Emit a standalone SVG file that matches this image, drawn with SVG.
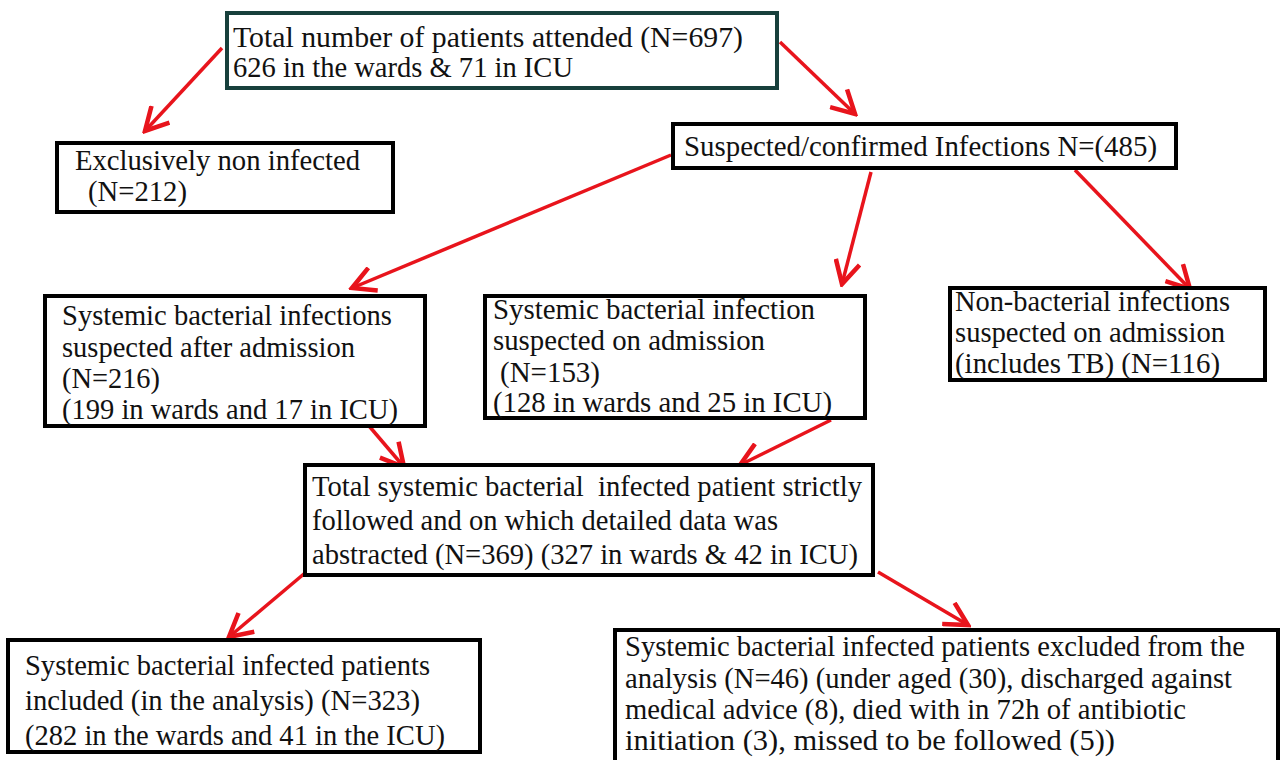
<svg xmlns="http://www.w3.org/2000/svg" width="1283" height="760" viewBox="0 0 1283 760">
<style>
.box{fill:#fff;stroke:#000;stroke-width:4}
.top{stroke:#17403c}
text{font-family:"Liberation Serif","Times New Roman",serif;font-size:30px;fill:#111}
.c{stroke:#e8141c;stroke-width:3.5;fill:none;marker-end:url(#ah)}
</style>
<defs>
<marker id="ah" markerWidth="8" markerHeight="8" refX="7" refY="4" orient="auto" markerUnits="strokeWidth" viewBox="0 0 8 8">
<path d="M0.5,0.5 L7,4 L0.5,7.5" fill="none" stroke="#e8141c" stroke-width="1.3"/>
</marker>
</defs>
<rect width="1283" height="760" fill="#fff"/>
<g id="connectors">
<line class="c" x1="222" y1="48" x2="145" y2="131"/>
<line class="c" x1="780" y1="42" x2="855" y2="114"/>
<line class="c" x1="671" y1="155" x2="352" y2="288"/>
<line class="c" x1="871" y1="172" x2="842" y2="284"/>
<line class="c" x1="1075" y1="170" x2="1190" y2="289"/>
<line class="c" x1="358" y1="413" x2="404" y2="467"/>
<line class="c" x1="831" y1="420" x2="740" y2="465"/>
<line class="c" x1="305" y1="573" x2="229" y2="637"/>
<line class="c" x1="878" y1="572" x2="968" y2="625"/>
</g>
<g id="n1">
<rect class="box top" x="227" y="13" width="550" height="75"/>
<text x="233" y="47" textLength="510" lengthAdjust="spacingAndGlyphs">Total number of patients attended (N=697)</text>
<text x="233" y="77" textLength="340" lengthAdjust="spacingAndGlyphs">626 in the wards &amp; 71 in ICU</text>
</g>
<g id="n2">
<rect class="box" x="57" y="143" width="336" height="69"/>
<text x="75" y="170" textLength="285" lengthAdjust="spacingAndGlyphs">Exclusively non infected</text>
<text x="88" y="201" textLength="99" lengthAdjust="spacingAndGlyphs">(N=212)</text>
</g>
<g id="n3">
<rect class="box" x="673" y="124" width="503" height="44"/>
<text x="684" y="156" textLength="473" lengthAdjust="spacingAndGlyphs">Suspected/confirmed Infections N=(485)</text>
</g>
<g id="n4">
<rect class="box" x="45" y="296" width="380" height="130"/>
<text x="62" y="325" textLength="330" lengthAdjust="spacingAndGlyphs">Systemic bacterial infections</text>
<text x="62" y="357" textLength="293" lengthAdjust="spacingAndGlyphs">suspected after admission</text>
<text x="62" y="388" textLength="98" lengthAdjust="spacingAndGlyphs">(N=216)</text>
<text x="62" y="419" textLength="336" lengthAdjust="spacingAndGlyphs">(199 in wards and 17 in ICU)</text>
</g>
<g id="n5">
<rect class="box" x="485" y="296" width="380" height="122"/>
<text x="493" y="319" textLength="322" lengthAdjust="spacingAndGlyphs">Systemic bacterial infection</text>
<text x="493" y="350" textLength="272" lengthAdjust="spacingAndGlyphs">suspected on admission</text>
<text x="500" y="382" textLength="100" lengthAdjust="spacingAndGlyphs">(N=153)</text>
<text x="493" y="412" textLength="339" lengthAdjust="spacingAndGlyphs">(128 in wards and 25 in ICU)</text>
</g>
<g id="n6">
<rect class="box" x="950" y="288" width="315" height="92"/>
<text x="955" y="311" textLength="275" lengthAdjust="spacingAndGlyphs">Non-bacterial infections</text>
<text x="955" y="342" textLength="270" lengthAdjust="spacingAndGlyphs">suspected on admission</text>
<text x="955" y="373" textLength="265" lengthAdjust="spacingAndGlyphs">(includes TB) (N=116)</text>
</g>
<g id="n7">
<rect class="box" x="305" y="465" width="568" height="110"/>
<text x="312" y="496" textLength="550" lengthAdjust="spacingAndGlyphs" style="white-space:pre">Total systemic bacterial  infected patient strictly</text>
<text x="312" y="530" textLength="466" lengthAdjust="spacingAndGlyphs">followed and on which detailed data was</text>
<text x="312" y="564" textLength="546" lengthAdjust="spacingAndGlyphs">abstracted (N=369) (327 in wards &amp; 42 in ICU)</text>
</g>
<g id="n8">
<rect class="box" x="8" y="640" width="472" height="112"/>
<text x="25" y="675" textLength="405" lengthAdjust="spacingAndGlyphs">Systemic bacterial infected patients</text>
<text x="25" y="710" textLength="395" lengthAdjust="spacingAndGlyphs">included (in the analysis) (N=323)</text>
<text x="25" y="745" textLength="420" lengthAdjust="spacingAndGlyphs">(282 in the wards and 41 in the ICU)</text>
</g>
<g id="n9">
<rect class="box" x="615" y="630" width="663" height="135"/>
<text x="625" y="656" textLength="620" lengthAdjust="spacingAndGlyphs">Systemic bacterial infected patients excluded from the</text>
<text x="625" y="688" textLength="607" lengthAdjust="spacingAndGlyphs">analysis (N=46) (under aged (30), discharged against</text>
<text x="625" y="719" textLength="561" lengthAdjust="spacingAndGlyphs">medical advice (8), died with in 72h of antibiotic</text>
<text x="625" y="750" textLength="490" lengthAdjust="spacingAndGlyphs">initiation (3), missed to be followed (5))</text>
</g>
</svg>
